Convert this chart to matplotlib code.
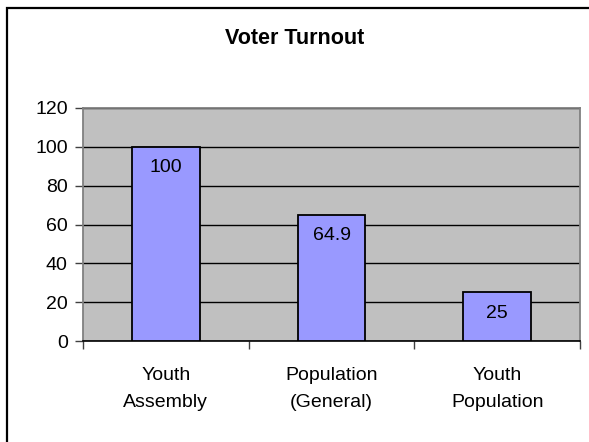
import matplotlib
matplotlib.use('Agg')
from matplotlib import pyplot as plt
from matplotlib.patches import Rectangle

plt.rcParams['font.family'] = ['Liberation Sans', 'DejaVu Sans']

categories = ['Youth\nAssembly', 'Population\n(General)', 'Youth\nPopulation']
turnout = [100, 64.9, 25]
value_labels = ['100', '64.9', '25']
y_ticks = [0, 20, 40, 60, 80, 100, 120]

fig = plt.figure(figsize=(5.89, 4.42), dpi=100)
fig.patch.set_facecolor('white')

# chart frame, only its left and top edges fall inside the canvas
fig.patches.append(Rectangle((7 / 589, -0.2), 1.0, 1.2 - 8 / 442,
                             transform=fig.transFigure, fill=False,
                             edgecolor='black', linewidth=1.6))

ax = fig.add_axes([83 / 589, 101 / 442, 497 / 589, 233 / 442])
ax.set_facecolor('#C0C0C0')

x = range(len(categories))
bars = ax.bar(x, turnout, width=0.41, color='#9999FF', edgecolor='black',
              linewidth=1.3, zorder=3)

for b, lab in zip(bars, value_labels):
    ax.annotate(lab, (b.get_x() + b.get_width() / 2, b.get_height()),
                xytext=(0, -9), textcoords='offset points',
                ha='center', va='top', fontsize=14, zorder=4)

ax.set_xlim(-0.5, len(categories) - 0.5)
ax.set_ylim(0, 120)
ax.set_yticks(y_ticks)
ax.set_yticklabels([str(t) for t in y_ticks], fontsize=14)
ax.yaxis.grid(True, color='black', linewidth=1.0, zorder=1)
ax.set_axisbelow(True)

# category ticks sit on the boundaries between groups
ax.set_xticks([-0.5, 0.5, 1.5, 2.5])
ax.set_xticklabels([])
ax.set_xticks(list(x), minor=True)
ax.set_xticklabels(categories, minor=True, fontsize=14, linespacing=1.75)
ax.tick_params(axis='x', which='minor', length=0, pad=19)
ax.tick_params(axis='x', which='major', length=6, width=1, color='#404040')
ax.tick_params(axis='y', length=6, width=1, pad=5, color='#404040')

for side in ['left', 'top', 'right']:
    ax.spines[side].set_color('#808080')
    ax.spines[side].set_linewidth(1.3)
ax.spines['bottom'].set_color('black')
ax.spines['bottom'].set_linewidth(1.2)

fig.text(0.5, 1 - 38 / 442, 'Voter Turnout', ha='center', va='center',
         fontsize=15.5, fontweight='bold')

fig.savefig('out.png', dpi=100)
